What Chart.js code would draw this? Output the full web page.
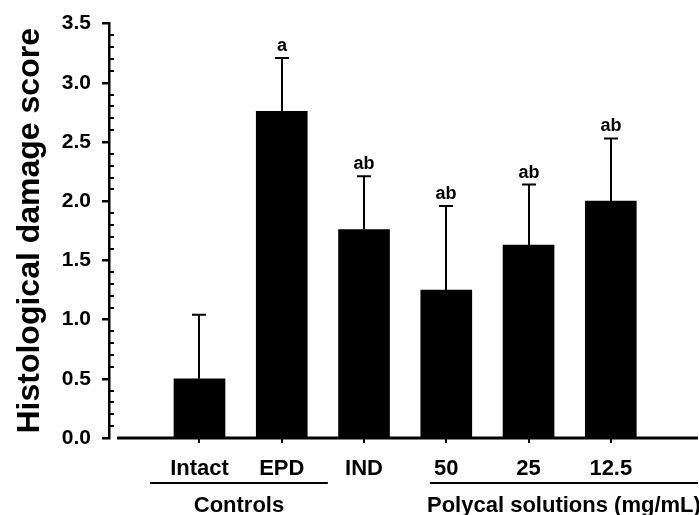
<!DOCTYPE html>
<html>
<head>
<meta charset="utf-8">
<script src="https://cdn.jsdelivr.net/npm/chart.js@4/dist/chart.umd.min.js"></script>
<style>
  html, body { margin: 0; padding: 0; background: #fff; }
</style>
</head>
<body>
<canvas id="damage-Chart" width="699" height="515"></canvas>
<script>
// values
const groups = ["Intact", "EPD", "IND", "50", "25", "12.5"];
const means = [0.5, 2.76, 1.76, 1.25, 1.63, 2.0];
const sds = [0.54, 0.45, 0.45, 0.71, 0.51, 0.53];
const letters = ["", "a", "ab", "ab", "ab", "ab"];
const groupNames = ["Controls", "Polycal solutions (mg/mL)"];

const FONT = "'Liberation Sans', Arial, sans-serif";

// extra drawing: minor ticks, x axis line, error bars, letters, group brackets
const extras = {
  id: "extras",
  afterDatasetsDraw(chart) {
    const { ctx, chartArea, scales } = chart;
    const xs = scales.x, ys = scales.y;
    ctx.save();
    ctx.strokeStyle = "#000";
    ctx.fillStyle = "#000";

    // x axis line, starts a little right of the y axis
    ctx.lineWidth = 3;
    ctx.beginPath();
    ctx.moveTo(chartArea.left + 8, chartArea.bottom);
    ctx.lineTo(chartArea.right, chartArea.bottom);
    ctx.stroke();

    // minor ticks pointing inward
    ctx.lineWidth = 2;
    for (let k = 1; k < 35; k++) {
      if (k % 5 === 0) continue;
      const y = Math.round(ys.getPixelForValue(k / 10));
      ctx.beginPath();
      ctx.moveTo(chartArea.left, y);
      ctx.lineTo(chartArea.left + 5, y);
      ctx.stroke();
    }

    // error bars (upper only) + letters
    ctx.font = "bold 18px " + FONT;
    ctx.textAlign = "center";
    ctx.textBaseline = "alphabetic";
    means.forEach((m, i) => {
      const x = Math.round(xs.getPixelForValue(i + 1));
      const y0 = ys.getPixelForValue(m);
      const y1 = ys.getPixelForValue(m + sds[i]);
      ctx.lineWidth = 2;
      ctx.beginPath();
      ctx.moveTo(x, y0);
      ctx.lineTo(x, y1);
      ctx.moveTo(x - 7, y1);
      ctx.lineTo(x + 7, y1);
      ctx.stroke();
      if (letters[i]) ctx.fillText(letters[i], x, y1 - 7);
    });

    // group brackets under the category labels
    const spans = [[0.4, 2.56], [3.8, xs.max]];
    ctx.font = "bold 22px " + FONT;
    spans.forEach((s, i) => {
      const a = xs.getPixelForValue(s[0]);
      const b = Math.min(xs.getPixelForValue(s[1]), chartArea.right);
      ctx.lineWidth = 2;
      ctx.beginPath();
      ctx.moveTo(a, 483);
      ctx.lineTo(b, 483);
      ctx.stroke();
      ctx.fillText(groupNames[i], (a + b) / 2, 512);
    });
    ctx.restore();
  }
};

document.addEventListener("DOMContentLoaded", () => {
  const ctx = document.getElementById("damage-Chart");
  new Chart(ctx, {
    type: "bar",
    data: {
      datasets: [
        {
          data: means.map((m, i) => ({ x: i + 1, y: m })),
          backgroundColor: "#000",
          borderWidth: 0,
          barThickness: 51,
        },
      ],
    },
    options: {
      responsive: false,
      animation: false,
      layout: { padding: { top: 23, right: 1, left: 0, bottom: 0 } },
      plugins: { legend: { display: false }, tooltip: { enabled: false } },
      scales: {
        x: {
          type: "linear",
          offset: false,
          min: -0.1,
          max: 7.06,
          afterBuildTicks: (s) => {
            s.ticks = groups.map((g, i) => ({ value: i + 1 }));
          },
          afterFit: (s) => {
            s.height = 77;
          },
          ticks: {
            callback: (v, i) => groups[i],
            font: { family: FONT, size: 22, weight: "bold" },
            color: "#000",
            padding: 13,
            maxRotation: 0,
            autoSkip: false,
          },
          grid: { offset: false, drawOnChartArea: false, tickLength: 5, color: "#000", lineWidth: 2 },
          border: { display: false },
        },
        y: {
          min: 0,
          max: 3.5,
          afterFit: (s) => {
            s.width = 109;
          },
          ticks: {
            stepSize: 0.5,
            callback: (v) => v.toFixed(1),
            font: { family: FONT, size: 21, weight: "bold" },
            color: "#000",
            padding: 11,
          },
          grid: { drawOnChartArea: false, tickLength: 7, color: "#000", lineWidth: 2.5 },
          border: { display: true, color: "#000", width: 2.5 },
          title: {
            display: true,
            text: "Histological damage score",
            font: { family: FONT, size: 32, weight: "bold" },
            color: "#000",
            padding: { top: 11, bottom: 0 },
          },
        },
      },
    },
    plugins: [extras],
  });
});
</script>
</body>
</html>
